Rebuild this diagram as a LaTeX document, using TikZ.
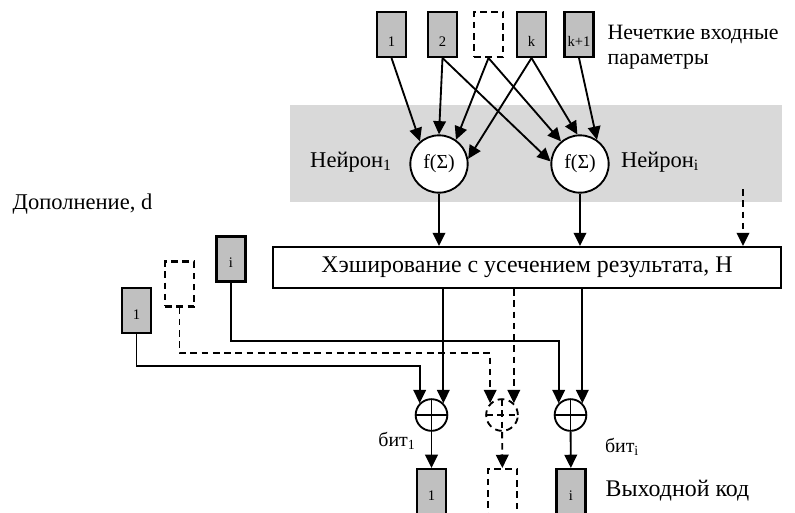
\documentclass[tikz,border=0pt]{standalone}
\usepackage{fontspec}
\setmainfont{Liberation Serif}
\usetikzlibrary{arrows.meta, positioning, calc}
\definecolor{ink}{HTML}{000000}
\definecolor{boxg}{HTML}{C0C0C0}
\definecolor{bandg}{HTML}{D9D9D9}

\begin{document}
\begin{tikzpicture}[x=0.0265cm, y=-0.0265cm,
    every node/.style={text=ink},
    brk/.style={dash pattern=on 5pt off 3.5pt},
    inbox/.style={draw=ink, fill=boxg, line width=1.6pt, minimum width=0.77cm, minimum height=1.19cm, inner sep=0pt,
        text height=13pt, text depth=0pt, font=\fontsize{11}{12}\selectfont},
    topbox/.style={inbox, text height=18pt},
    ghost/.style={draw=ink, fill=white, brk, line width=1.6pt, minimum width=0.77cm, minimum height=1.19cm, inner sep=0pt},
    neuron/.style={circle, draw=ink, fill=white, line width=1.4pt, minimum size=1.52cm, inner sep=0pt, font=\fontsize{15}{17}\selectfont},
    xorop/.style={circle, draw=ink, line width=1.4pt, minimum size=0.84cm, inner sep=0pt,
        path picture={\draw[line width=1.4pt, #1] (path picture bounding box.north) -- (path picture bounding box.south)
                       (path picture bounding box.west) -- (path picture bounding box.east);}},
    xorop/.default={solid},
    arr/.style={-{Triangle[length=10pt, width=9.5pt]}, line width=1.4pt, ink},
    lbl/.style={font=\fontsize{17}{19}\selectfont}
]

% ---------------- canvas ----------------
\useasboundingbox (0,0) rectangle (795,512);
\fill[white] (0,0) rectangle (795,512);

% ---------------- neuron layer ----------------
\fill[bandg] (290,105) rectangle (782,202);

% fuzzy inputs
\node[topbox] (in1) at (391.5,34.5) {1};
\node[topbox] (in2) at (442.5,34.5) {2};
\node[ghost] (ind) at (488.5,34.5) {};
\node[topbox] (ink) at (531.5,34.5) {k};
\node[topbox] (inkk) at (579,34.5) {k+1};
\node[lbl, font=\fontsize{16.5}{19}\selectfont, anchor=north west, align=left] (inlbl) at (603,20) {Нечеткие входные\\параметры};

\node[neuron] (n1) at (439,164) {f(Σ)};
\node[neuron] (ni) at (580,164) {f(Σ)};
\node[lbl] (n1lbl) at (351,162) {Нейрон\textsubscript{1}};
\node[lbl] (nilbl) at (660,162) {Нейрон\textsubscript{i}};

\draw[arr] (in1.south) -- (n1.130);
\draw[arr] (in2.south) -- (n1.north);
\draw[arr] (ind.south) -- (n1.55);
\draw[arr] (ink.south) -- (n1.10);
\draw[arr] (in2.south) -- (ni.175);
\draw[arr] (ind.south) -- (ni.130);
\draw[arr] (ink.south) -- (ni.95);
\draw[arr] (inkk.south) -- (ni.55);

% ---------------- hashing ----------------
\node[draw=ink, fill=white, line width=1.4pt, minimum width=13.46cm, minimum height=1.09cm, inner sep=0pt,
      font=\fontsize{18}{20}\selectfont] (hash) at (527,267.5)
    {Хэширование с усечением результата, Н};
\coordinate (more) at (743,189);
\draw[arr] (n1) -- (n1 |- hash.north);
\draw[arr] (ni) -- (ni |- hash.north);
\draw[arr, brk] (more) -- (more |- hash.north);

% ---------------- padding d ----------------
\node[lbl, anchor=west] (dlbl) at (8,204) {Дополнение, d};
\node[inbox] (d1) at (136.5,310.5) {1};
\node[ghost] (dd) at (179.5,284) {};
\node[inbox] (di) at (231,259) {i};

% xor stage
\node[xorop] (x1) at (431.5,415) {};
\node[xorop=brk, brk] (xd) at (502,415) {};
\node[xorop] (xi) at (570.5,415) {};

\draw[arr] (hash.south -| x1.north east) -- (x1.north east);
\draw[arr, brk] (hash.south -| xd.north east) -- (xd.north east);
\draw[arr] (hash.south -| xi.north east) -- (xi.north east);

\draw[arr] (di.south) -- (di.south |- 0,341) -| (xi.north west);
\draw[arr, brk] (dd.south) -- (dd.south |- 0,353) -| (xd.north west);
\draw[arr] (d1.south) -- (d1.south |- 0,366) -| (x1.north west);

% ---------------- output code ----------------
\node[inbox] (o1) at (431.5,491.5) {1};
\node[ghost] (od) at (502.5,491.5) {};
\node[inbox] (oi) at (571,491.5) {i};

\draw[arr] (x1) -- (o1);
\draw[arr, brk] (xd) -- (od);
\draw[arr] (xi) -- (oi);

\node[lbl, font=\fontsize{15}{17}\selectfont] (b1lbl) at (397,441) {бит\textsubscript{1}};
\node[lbl, font=\fontsize{15}{17}\selectfont] (bilbl) at (622,447) {бит\textsubscript{i}};
\node[lbl, font=\fontsize{18}{20}\selectfont, anchor=west] (outlbl) at (601,491) {Выходной код};

\end{tikzpicture}
\end{document}
